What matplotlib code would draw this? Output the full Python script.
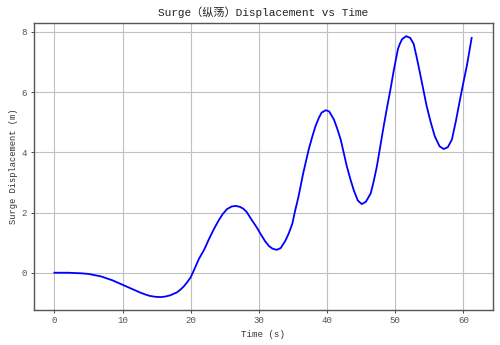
#!/usr/bin/env python3
"""Surge displacement time history, recreated from a reference picture."""

import matplotlib
matplotlib.use("Agg")
import matplotlib.pyplot as plt

# Values (time in s, surge in m)
time_s = [
    0.0, 2.0, 4.0, 5.0, 6.8, 8.5, 10.0, 11.3, 12.6, 13.3, 14.0, 14.8, 15.6,
    16.3, 17.0, 18.0, 18.5, 19.0, 19.5, 20.0, 20.7, 21.2, 22.0, 22.7, 23.4,
    24.1, 24.7, 25.3, 26.0, 26.6, 27.2, 27.7, 28.2, 28.9, 29.7, 30.3, 30.9,
    31.5, 32.0, 32.6, 33.2, 33.9, 34.4, 34.9, 35.3, 35.8, 36.5, 37.3, 37.8,
    38.3, 38.8, 39.2, 39.8, 40.3, 41.0, 41.5, 42.0, 42.9, 43.4, 43.9, 44.5,
    45.1, 45.7, 46.4, 46.8, 47.3, 47.8, 48.3, 48.8, 49.3, 49.8, 50.4, 50.7,
    51.0, 51.6, 52.2, 52.7, 53.1, 53.6, 54.1, 54.6, 55.2, 55.8, 56.5, 57.1,
    57.7, 58.3, 58.9, 59.5, 60.0, 60.5, 60.9, 61.2,
]
surge_m = [
    0.0, 0.0, -0.02, -0.04, -0.12, -0.25, -0.40, -0.53, -0.66, -0.72, -0.77,
    -0.80, -0.81, -0.79, -0.75, -0.65, -0.56, -0.45, -0.31, -0.15, 0.20, 0.46,
    0.78, 1.13, 1.45, 1.74, 1.95, 2.11, 2.20, 2.22, 2.19, 2.13, 2.02, 1.77,
    1.50, 1.27, 1.05, 0.88, 0.80, 0.76, 0.82, 1.07, 1.32, 1.63, 2.05, 2.52,
    3.31, 4.09, 4.50, 4.87, 5.15, 5.32, 5.40, 5.36, 5.09, 4.78, 4.42, 3.53,
    3.12, 2.75, 2.40, 2.28, 2.36, 2.64, 3.00, 3.53, 4.20, 4.87, 5.50, 6.10,
    6.75, 7.44, 7.62, 7.76, 7.86, 7.80, 7.60, 7.20, 6.66, 6.10, 5.54, 5.00,
    4.53, 4.20, 4.11, 4.17, 4.42, 5.05, 5.76, 6.33, 6.88, 7.40, 7.80,
]

FONT = ["Liberation Mono", "Noto Sans CJK SC"]


def main() -> None:
    plt.rcParams["font.family"] = FONT
    plt.rcParams["axes.unicode_minus"] = False

    fig = plt.figure(figsize=(5.0, 3.45), dpi=100)
    ax = fig.add_axes([0.067, 0.101, 0.918, 0.832])

    ax.plot(time_s, surge_m, color="#0000ff", linewidth=1.3)

    ax.set_title("Surge（纵荡）Displacement vs Time", fontsize=8, pad=5,
                 color="#222222")
    ax.set_xlabel("Time (s)", fontsize=6.6, labelpad=3, color="#333333")
    ax.set_ylabel("Surge Displacement (m)", fontsize=6.3, labelpad=3,
                  color="#333333")

    ax.set_xticks([0, 10, 20, 30, 40, 50, 60])
    ax.set_yticks([0, 2, 4, 6, 8])
    ax.tick_params(labelsize=6.6, length=2.5, width=0.7, pad=2,
                   colors="#444444", labelcolor="#555555")

    ax.grid(True, color="#c0c0c0", linewidth=0.8)
    ax.set_axisbelow(True)
    for sp in ax.spines.values():
        sp.set_color("#555555")
        sp.set_linewidth(1.0)

    fig.savefig("out.png", dpi=100)
    plt.close(fig)


if __name__ == "__main__":
    main()
